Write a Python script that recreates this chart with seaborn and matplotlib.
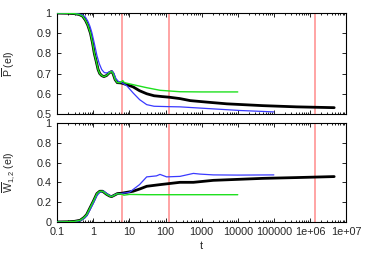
import numpy as np
import pandas as pd
import matplotlib
matplotlib.use("Agg")
import matplotlib.pyplot as plt
import seaborn as sns
from matplotlib.ticker import FixedLocator, LogLocator, NullFormatter

sns.set_theme(style="ticks")
plt.rcParams['font.family'] = ['Liberation Sans', 'DejaVu Sans']
plt.rcParams['mathtext.fontset'] = 'custom'
plt.rcParams['mathtext.rm'] = 'Liberation Sans'
plt.rcParams['mathtext.it'] = 'Liberation Sans:italic'

# ---------------- data ----------------
# top panel: P (el)
t_black_top = [0.1, 0.2, 0.3, 0.4, 0.5, 0.6, 0.7, 0.83, 0.95, 1.06, 1.2, 1.35, 1.5, 1.7, 1.95, 2.3, 2.8, 3.2, 3.5, 4.0, 4.6, 5.5, 6.1,
               8.4, 12.6, 19, 30, 48, 80, 124, 250, 480, 1500, 5000, 5e4, 4.3e5, 4.7e6]
p_black_top = [1.0, 0.999, 0.997, 0.993, 0.985, 0.965, 0.94, 0.9, 0.85, 0.8, 0.76, 0.72, 0.7, 0.69, 0.685, 0.69, 0.705, 0.71, 0.70, 0.67, 0.655, 0.654, 0.653,
               0.645, 0.634, 0.615, 0.60, 0.59, 0.586, 0.583, 0.576, 0.566, 0.558, 0.55, 0.541, 0.535, 0.531]

t_blue_top = [0.1, 0.2, 0.3, 0.4, 0.5, 0.6, 0.7, 0.8, 0.9, 1.0, 1.12, 1.25, 1.45, 1.7, 2.0, 2.3, 2.8, 3.3, 3.7, 4.2, 5.0, 6.1,
              8.4, 12.6, 19, 30, 48, 124, 250, 2100, 11500, 1e5]
p_blue_top = [1.0, 0.999, 0.998, 0.995, 0.99, 0.98, 0.96, 0.935, 0.905, 0.87, 0.83, 0.79, 0.75, 0.72, 0.705, 0.703, 0.708, 0.713, 0.70, 0.675, 0.66, 0.655,
              0.64, 0.604, 0.571, 0.546, 0.538, 0.536, 0.535, 0.525, 0.517, 0.51]

t_green_top = [0.1, 0.2, 0.3, 0.4, 0.5, 0.6, 0.7, 0.83, 0.95, 1.06, 1.2, 1.35, 1.5, 1.7, 1.95, 2.3, 2.8, 3.2, 3.5, 4.0, 4.6, 5.5, 6.5, 7.2,
               12.6, 30, 71, 250, 1000, 1e4]
p_green_top = [1.0, 0.999, 0.997, 0.993, 0.985, 0.965, 0.94, 0.9, 0.85, 0.8, 0.76, 0.72, 0.7, 0.69, 0.685, 0.69, 0.705, 0.71, 0.70, 0.67, 0.655, 0.655, 0.665, 0.655,
               0.645, 0.63, 0.617, 0.61, 0.609, 0.609]

# bottom panel: W_{1,2} (el)
t_black_bot = [0.1, 0.2, 0.3, 0.43, 0.55, 0.65, 0.8, 1.0, 1.25, 1.5, 1.8, 2.3, 2.8, 3.2, 3.8, 4.6, 6.1,
               12.6, 20, 30, 71, 250, 590, 2100, 5e4, 4.3e5, 4.7e6]
w_black_bot = [0.0, 0.002, 0.006, 0.017, 0.045, 0.074, 0.14, 0.21, 0.286, 0.31, 0.31, 0.28, 0.262, 0.256, 0.27, 0.286, 0.29,
               0.31, 0.335, 0.36, 0.377, 0.40, 0.40, 0.42, 0.44, 0.448, 0.458]

t_blue_bot = [0.1, 0.2, 0.3, 0.43, 0.55, 0.65, 0.8, 1.0, 1.25, 1.5, 1.9, 2.4, 2.9, 3.3, 3.9, 4.6, 6.1,
              10, 19, 30, 56, 70, 107, 250, 590, 900, 2100, 1e4, 1e5]
w_blue_bot = [0.0, 0.001, 0.004, 0.012, 0.035, 0.06, 0.12, 0.19, 0.265, 0.30, 0.312, 0.285, 0.265, 0.258, 0.275, 0.285, 0.288,
              0.30, 0.377, 0.455, 0.465, 0.48, 0.455, 0.46, 0.49, 0.483, 0.475, 0.473, 0.475]

t_green_bot = [0.1, 0.2, 0.3, 0.43, 0.55, 0.65, 0.8, 1.0, 1.25, 1.5, 1.8, 2.3, 2.8, 3.2, 3.8, 4.6, 6.1, 7, 10, 30, 1e4]
w_green_bot = [0.0, 0.002, 0.006, 0.017, 0.045, 0.074, 0.14, 0.21, 0.286, 0.31, 0.31, 0.28, 0.262, 0.256, 0.27, 0.285, 0.28, 0.27, 0.278, 0.275, 0.275]

red_lines_t = [6.1, 124, 1.35e6]

x_ticks = [0.1, 1, 10, 100, 1000, 10000, 100000, 1e6, 1e7]
x_ticklabels = ["0.1", "1", "10", "100", "1000", "10000", "100000", "1e+06", "1e+07"]
top_yticks = [0.5, 0.6, 0.7, 0.8, 0.9, 1.0]
top_yticklabels = ["0.5", "0.6", "0.7", "0.8", "0.9", "1"]
bot_yticks = [0, 0.2, 0.4, 0.6, 0.8, 1.0]
bot_yticklabels = ["0", "0.2", "0.4", "0.6", "0.8", "1"]

# ---------------- figure ----------------
fig = plt.figure(figsize=(3.65, 2.56), dpi=100)
ax1 = fig.add_axes([0.157, 0.555, 0.791, 0.394])
ax2 = fig.add_axes([0.157, 0.133, 0.791, 0.387])

FS = 7.8
RED = '#ff8c8c'

def style(ax, yticks, ylabels, ylim, show_x):
    ax.set_xscale('log')
    ax.set_xlim(0.1, 1e7)
    ax.set_ylim(*ylim)
    ax.xaxis.set_major_locator(FixedLocator(x_ticks))
    ax.xaxis.set_minor_locator(LogLocator(base=10, subs=np.arange(2, 10), numticks=30))
    ax.xaxis.set_minor_formatter(NullFormatter())
    if show_x:
        ax.set_xticklabels(x_ticklabels)
    else:
        ax.set_xticklabels([])
    ax.set_yticks(yticks)
    ax.set_yticklabels(ylabels)
    ax.tick_params(which='both', direction='in', top=True, right=True, labelsize=FS, color='black', width=0.6)
    ax.tick_params(axis='y', pad=4)
    ax.tick_params(axis='x', pad=3.5)
    ax.tick_params(which='major', length=3)
    ax.tick_params(which='minor', length=1.5)
    for s in ax.spines.values():
        s.set_linewidth(0.8)
        s.set_color('black')
    for tr in red_lines_t:
        ax.axvline(tr, color=RED, lw=1.1, zorder=1)

def draw(ax, t, v, color, lw):
    df = pd.DataFrame({'t': t, 'v': v})
    sns.lineplot(data=df, x='t', y='v', ax=ax, color=color, lw=lw, sort=False, estimator=None, zorder=3)

draw(ax1, t_black_top, p_black_top, 'black', 2.0)
draw(ax1, t_blue_top, p_blue_top, '#3a3aff', 0.9)
draw(ax1, t_green_top, p_green_top, '#1ee01e', 1.0)
style(ax1, top_yticks, top_yticklabels, (0.5, 1.0), False)
ax1.set_xlabel('')
ax1.set_ylabel(r'$\overline{\mathrm{P}}$ (el)', fontsize=7.6)
ax1.yaxis.set_label_coords(-0.14, 0.5)

draw(ax2, t_black_bot, w_black_bot, 'black', 2.0)
draw(ax2, t_blue_bot, w_blue_bot, '#3a3aff', 0.9)
draw(ax2, t_green_bot, w_green_bot, '#1ee01e', 1.0)
style(ax2, bot_yticks, bot_yticklabels, (0.0, 1.0), True)
ax2.set_xlabel('t', fontsize=FS, labelpad=3)
ax2.set_ylabel(r'$\overline{\mathrm{W}}_{1,2}$ (el)', fontsize=7.6)
ax2.yaxis.set_label_coords(-0.14, 0.5)

fig.savefig('out.png', dpi=100)
